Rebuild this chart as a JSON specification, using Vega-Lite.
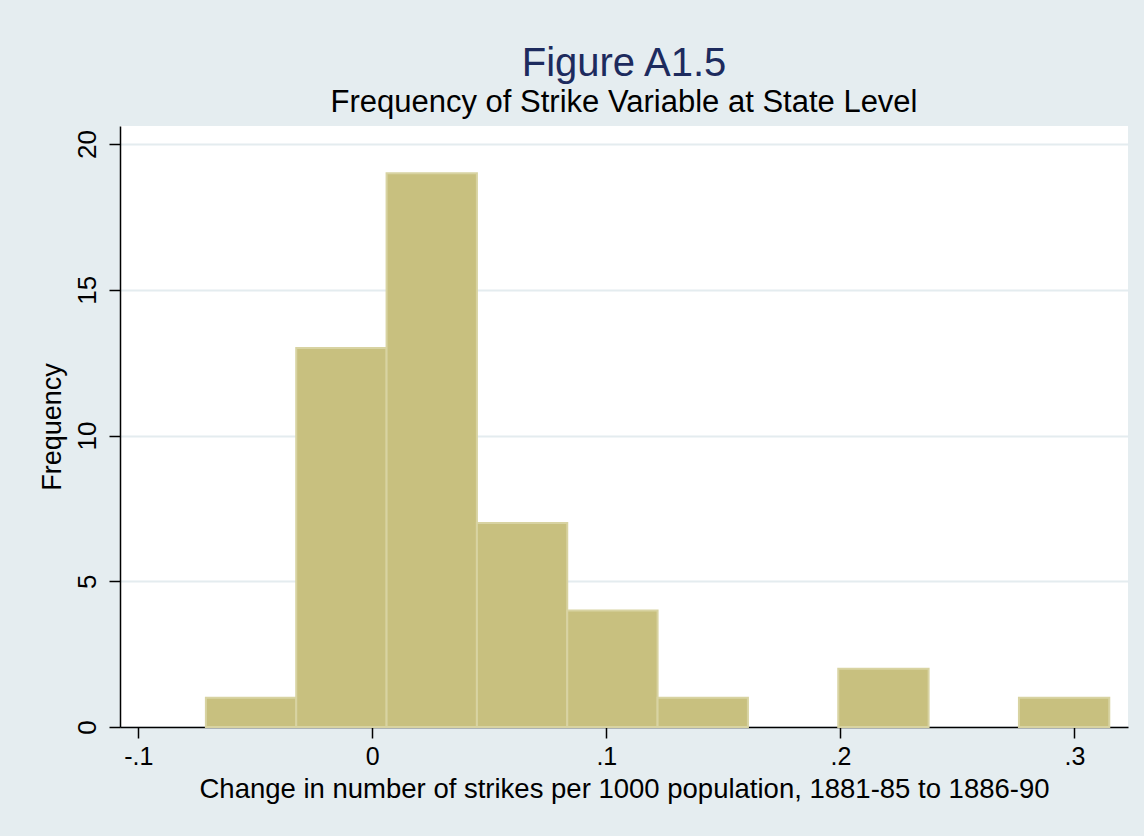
{
  "$schema": "https://vega.github.io/schema/vega-lite/v6.json",
  "width": 1008,
  "height": 601,
  "autosize": {"type": "none"},
  "padding": {"left": 120, "top": 126, "right": 16, "bottom": 109},
  "background": "#e5edf0",
  "view": {"fill": "white", "stroke": null},
  "title": {
    "text": "Figure A1.5",
    "subtitle": "Frequency of Strike Variable at State Level",
    "frame": "group",
    "anchor": "middle",
    "font": "Liberation Sans",
    "fontSize": 40,
    "fontWeight": "normal",
    "color": "#1d2b5e",
    "subtitleFont": "Liberation Sans",
    "subtitleFontSize": 31,
    "subtitleColor": "#000000",
    "offset": 8,
    "subtitlePadding": 4
  },
  "data": {
    "values": [
      {"bin_start": -0.0711, "bin_end": -0.0325, "count": 1},
      {"bin_start": -0.0325, "bin_end": 0.0061, "count": 13},
      {"bin_start": 0.0061, "bin_end": 0.0447, "count": 19},
      {"bin_start": 0.0447, "bin_end": 0.0833, "count": 7},
      {"bin_start": 0.0833, "bin_end": 0.1219, "count": 4},
      {"bin_start": 0.1219, "bin_end": 0.1605, "count": 1},
      {"bin_start": 0.1991, "bin_end": 0.2377, "count": 2},
      {"bin_start": 0.2763, "bin_end": 0.3149, "count": 1}
    ]
  },
  "mark": {"type": "rect", "fill": "#c8c07f", "stroke": "#d8d3a2", "strokeWidth": 2},
  "encoding": {
    "x": {
      "field": "bin_start",
      "type": "quantitative",
      "scale": {"domain": [-0.1078, 0.3229], "nice": false, "zero": false},
      "axis": {
        "values": [-0.1, 0, 0.1, 0.2, 0.3],
        "labelExpr": "datum.value == 0 ? '0' : (datum.value < 0 ? '-' + replace(format(-datum.value, '.1f'), '0.', '.') : replace(format(datum.value, '.1f'), '0.', '.'))",
        "title": "Change in number of strikes per 1000 population, 1881-85 to 1886-90",
        "grid": false,
        "domainColor": "#000000",
        "domainWidth": 1.5,
        "tickColor": "#000000",
        "tickWidth": 1.5,
        "tickSize": 11,
        "labelFont": "Liberation Sans",
        "labelFontSize": 25,
        "labelColor": "#000000",
        "labelPadding": 6,
        "titleFont": "Liberation Sans",
        "titleFontSize": 27.5,
        "titleFontWeight": "normal",
        "titleColor": "#000000",
        "titlePadding": 6
      }
    },
    "x2": {"field": "bin_end"},
    "y": {
      "field": "count",
      "type": "quantitative",
      "scale": {"domain": [0, 20.62], "nice": false},
      "axis": {
        "values": [0, 5, 10, 15, 20],
        "labelAngle": -90,
        "title": "Frequency",
        "grid": true,
        "gridColor": "#e4ecef",
        "gridWidth": 2,
        "domainColor": "#000000",
        "domainWidth": 1.5,
        "tickColor": "#000000",
        "tickWidth": 1.5,
        "tickSize": 11,
        "labelFont": "Liberation Sans",
        "labelFontSize": 26,
        "labelColor": "#000000",
        "labelPadding": 9,
        "titleFont": "Liberation Sans",
        "titleFontSize": 27,
        "titleFontWeight": "normal",
        "titleColor": "#000000",
        "titlePadding": 8
      }
    },
    "y2": {"datum": 0}
  }
}
